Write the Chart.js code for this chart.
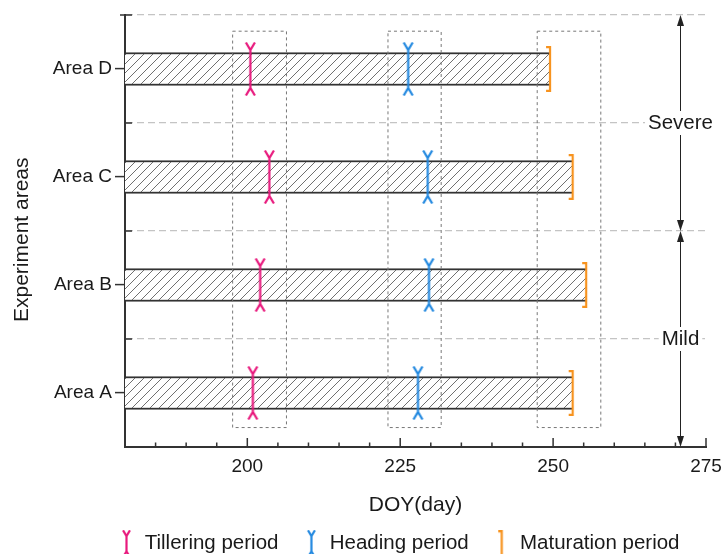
<!DOCTYPE html>
<html>
<head>
<meta charset="utf-8">
<script src="https://cdn.jsdelivr.net/npm/chart.js@4.4.1/dist/chart.umd.min.js"></script>
<style>
  html, body { margin: 0; padding: 0; background: #fff; overflow: hidden; }
  canvas { display: block; }
</style>
</head>
<body>
<canvas id="growthChart" width="724" height="554"></canvas>
<script>
// growth stages per area (DOY)
const areaNames = ['Area A', 'Area B', 'Area C', 'Area D'];
const areaIndex = [0, 1, 2, 3];
const seasonStart = 180;
const tilleringDoy = [200.9, 202.1, 203.6, 200.5];
const headingDoy = [227.9, 229.7, 229.5, 226.3];
const maturationDoy = [253.2, 255.4, 253.2, 249.5];

// dotted windows around each stage
const windowStart = [197.6, 223.0, 247.4];
const windowEnd = [206.4, 231.7, 257.8];
const windowTop = 3.35;
const windowBottom = -0.32;

// stress zones on the right
const zoneNames = ['Severe', 'Mild'];
const zoneFrom = [3.5, 1.5];
const zoneTo = [1.5, -0.5];
const zoneDoy = 270.8;

const legendNames = ['Tillering period', 'Heading period', 'Maturation period'];

const PINK = '#e8197d';
const BLUE = '#2389e0';
const ORANGE = '#f7931e';
const INK = '#1a1a1a';

Chart.defaults.font.family = '"Liberation Sans", Arial, sans-serif';

function forkMarker(color, h, arm) {
    const c = document.createElement('canvas');
    c.width = Math.ceil(arm * 2 + 4);
    c.height = h;
    const g = c.getContext('2d');
    const cx = c.width / 2, fork = arm * 1.8;
    g.strokeStyle = color;
    g.lineWidth = 2.2;
    g.beginPath();
    g.moveTo(cx - arm, 0.5); g.lineTo(cx, fork); g.lineTo(cx + arm, 0.5);
    g.moveTo(cx, fork); g.lineTo(cx, h - fork);
    g.moveTo(cx - arm, h - 0.5); g.lineTo(cx, h - fork); g.lineTo(cx + arm, h - 0.5);
    g.stroke();
    return c;
}

function bracketMarker(color, h, arm) {
    const c = document.createElement('canvas');
    c.width = Math.ceil(arm * 2 + 4);
    c.height = h;
    const g = c.getContext('2d');
    const cx = c.width / 2;
    g.strokeStyle = color;
    g.lineWidth = 2.2;
    g.beginPath();
    g.moveTo(cx - arm, 1.1); g.lineTo(cx, 1.1); g.lineTo(cx, h - 1.1); g.lineTo(cx - arm, h - 1.1);
    g.stroke();
    return c;
}

function hatchPattern() {
    const c = document.createElement('canvas');
    c.width = 9; c.height = 9;
    const g = c.getContext('2d');
    g.fillStyle = '#fff';
    g.fillRect(0, 0, 9, 9);
    g.strokeStyle = '#707070';
    g.lineWidth = 1;
    g.beginPath();
    g.moveTo(0, 9); g.lineTo(9, 0);
    g.moveTo(-1, 1); g.lineTo(1, -1);
    g.moveTo(8, 10); g.lineTo(10, 8);
    g.stroke();
    return g.createPattern(c, 'repeat');
}

const legendIcons = [forkMarker(PINK, 28, 3.5), forkMarker(BLUE, 28, 3.5), bracketMarker(ORANGE, 27, 3.5)];

// inward ticks (x axis and half steps of y axis)
const innerTicks = {
    id: 'innerTicks',
    afterDraw(chart) {
        const { ctx, chartArea, scales: { x, y } } = chart;
        ctx.save();
        ctx.strokeStyle = '#333';
        ctx.lineWidth = 1.5;
        ctx.beginPath();
        x.ticks.forEach(t => {
            if (t.value <= x.min) return;
            const px = x.getPixelForValue(t.value);
            const len = t.value % 25 === 0 ? 9 : 4.5;
            ctx.moveTo(px, chartArea.bottom);
            ctx.lineTo(px, chartArea.bottom - len);
        });
        y.ticks.forEach(t => {
            if (Number.isInteger(t.value) || t.value <= y.min) return;
            const py = y.getPixelForValue(t.value);
            ctx.moveTo(chartArea.left - (t.value >= y.max ? 5 : 0), py);
            ctx.lineTo(chartArea.left + 7, py);
        });
        ctx.stroke();
        ctx.restore();
    }
};

function arrowHead(ctx, x, tipY, dir) {
    // dir -1 = pointing up, 1 = pointing down
    ctx.beginPath();
    ctx.moveTo(x, tipY);
    ctx.lineTo(x - 3.5, tipY - dir * 11);
    ctx.lineTo(x + 3.5, tipY - dir * 11);
    ctx.closePath();
    ctx.fill();
}

const zonePlugin = {
    id: 'zones',
    afterDraw(chart) {
        const { ctx, scales: { x, y } } = chart;
        const px = Math.round(x.getPixelForValue(zoneDoy)) + 0.5;
        ctx.save();
        ctx.lineWidth = 1;
        zoneNames.forEach((name, i) => {
            const y0 = y.getPixelForValue(zoneFrom[i]);
            const y1 = y.getPixelForValue(zoneTo[i]);
            ctx.strokeStyle = '#222';
            ctx.fillStyle = '#222';
            ctx.beginPath();
            ctx.moveTo(px, y0 + 4);
            ctx.lineTo(px, y1 - 4);
            ctx.stroke();
            arrowHead(ctx, px, y0, -1);
            arrowHead(ctx, px, y1, 1);

            const ym = y.getPixelForValue((zoneFrom[i] + zoneTo[i]) / 2);
            ctx.font = '20.5px "Liberation Sans", Arial, sans-serif';
            const w = ctx.measureText(name).width;
            ctx.fillStyle = '#fff';
            ctx.fillRect(px - w / 2 - 3, ym - 12, w + 6, 24);
            ctx.fillStyle = INK;
            ctx.textAlign = 'center';
            ctx.textBaseline = 'middle';
            ctx.fillText(name, px, ym);
        });
        ctx.restore();
    }
};

// move the legend row to where the original sits
const legendNudge = {
    id: 'legendNudge',
    afterLayout(chart) {
        const lg = chart.legend;
        lg.left += 46; lg.right += 46;
        lg.top += 10; lg.bottom += 10;
    }
};

const windowSets = windowStart.map((s, i) => ({
    type: 'scatter',
    data: [
        { x: s, y: windowTop }, { x: windowEnd[i], y: windowTop },
        { x: windowEnd[i], y: windowBottom }, { x: s, y: windowBottom },
        { x: s, y: windowTop }
    ],
    showLine: true,
    borderColor: '#777',
    borderWidth: 1,
    borderDash: [3, 3],
    pointRadius: 0,
    fill: false,
    order: 2
}));

const ctx = document.getElementById('growthChart').getContext('2d');
const growthChart = new Chart(ctx, {
    type: 'bar',
    data: {
        datasets: [
            {
                type: 'bar',
                indexAxis: 'y',
                data: areaIndex.map((v, i) => ({ x: [seasonStart, maturationDoy[i]], y: v })),
                backgroundColor: hatchPattern(),
                borderColor: '#333',
                borderWidth: { top: 2, bottom: 2, left: 0, right: 0 },
                borderSkipped: false,
                barThickness: 33,
                order: 3
            },
            ...windowSets,
            {
                type: 'scatter',
                data: areaIndex.map((v, i) => ({ x: tilleringDoy[i], y: v })),
                pointStyle: forkMarker(PINK, 54, 4.5),
                clip: false,
                order: 1
            },
            {
                type: 'scatter',
                data: areaIndex.map((v, i) => ({ x: headingDoy[i], y: v })),
                pointStyle: forkMarker(BLUE, 54, 4.5),
                clip: false,
                order: 1
            },
            {
                type: 'scatter',
                data: areaIndex.map((v, i) => ({ x: maturationDoy[i], y: v })),
                pointStyle: bracketMarker(ORANGE, 46, 4),
                clip: false,
                order: 1
            }
        ]
    },
    options: {
        responsive: false,
        animation: false,
        events: [],
        layout: { padding: { top: 15, right: 18, left: 0, bottom: 0 } },
        scales: {
            x: {
                type: 'linear',
                min: 180,
                max: 275,
                offset: false,
                afterFit: s => { s.height = 51.5; s.paddingLeft = 0; s.paddingRight = 0; },
                border: { color: '#333', width: 2 },
                grid: { display: false, drawTicks: false, offset: false },
                ticks: {
                    stepSize: 5,
                    autoSkip: false,
                    maxRotation: 0,
                    padding: 8,
                    color: INK,
                    font: { size: 19 },
                    callback: v => (v % 25 === 0 ? v : '')
                },
                title: {
                    display: true,
                    text: 'DOY(day)',
                    color: INK,
                    font: { size: 21, lineHeight: 1 },
                    padding: { top: 0, bottom: -17 }
                }
            },
            y: {
                type: 'linear',
                min: -0.5,
                max: 3.5,
                offset: false,
                afterFit: s => { s.width = 125; },
                border: { color: '#333', width: 2, dash: [7, 4] },
                grid: {
                    offset: false,
                    color: c => (c.tick && !Number.isInteger(c.tick.value) && c.tick.value > -0.5) ? '#c4c4c4' : 'rgba(0,0,0,0)',
                    lineWidth: 1.2,
                    tickColor: c => (c.tick && Number.isInteger(c.tick.value)) ? '#333' : 'rgba(0,0,0,0)',
                    tickLength: 10,
                    tickWidth: 1.5
                },
                ticks: {
                    stepSize: 0.5,
                    autoSkip: false,
                    padding: 3,
                    color: INK,
                    font: { size: 19 },
                    callback: v => (Number.isInteger(v) ? areaNames[v] : '')
                },
                title: {
                    display: true,
                    text: 'Experiment areas\u00a0\u00a0\u00a0',
                    color: INK,
                    font: { size: 21, lineHeight: 1 },
                    padding: { top: 12, bottom: 0 }
                }
            }
        },
        plugins: {
            tooltip: { enabled: false },
            legend: {
                position: 'bottom',
                labels: {
                    usePointStyle: true,
                    boxWidth: 16,
                    pointStyleWidth: 16,
                    padding: 25,
                    color: INK,
                    font: { size: 20.5 },
                    generateLabels: () => legendNames.map((text, i) => ({
                        text,
                        pointStyle: legendIcons[i],
                        fillStyle: 'rgba(0,0,0,0)',
                        strokeStyle: 'rgba(0,0,0,0)',
                        lineWidth: 0,
                        fontColor: INK,
                        hidden: false,
                        datasetIndex: i
                    }))
                }
            }
        }
    },
    plugins: [innerTicks, zonePlugin, legendNudge]
});
</script>
</body>
</html>
